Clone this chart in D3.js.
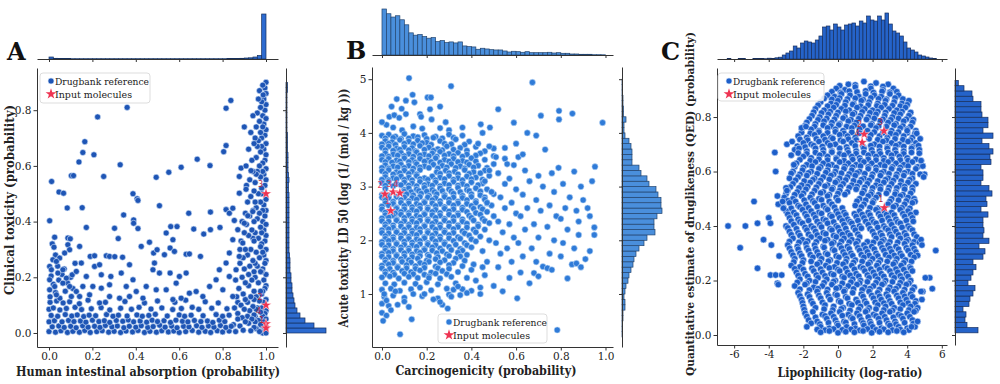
<!DOCTYPE html>
<html>
<head>
<meta charset="utf-8">
<script src="https://cdn.jsdelivr.net/npm/d3@7"></script>
<style>
  body { margin: 0; background: #fff; }
  svg { display: block; }
</style>
</head>
<body>
<div id="chart"></div>
<script>
// ---------- data ----------

// Panel A: human intestinal absorption (x) vs clinical toxicity (y)
const pointsA = [
  [1,.9],[.995,.88],[1,.86],[.99,.84],[1,.82],[.995,.8],[.985,.78],[1,.77],[.99,.75],[1,.73],[.995,.71],[.98,.7],[1,.68],[.99,.66],[1,.64],[.995,.62],[.985,.61],[1,.59],[.99,.57],[1,.55],[.995,.53],[.98,.52],[1,.48],[.99,.46],[1,.44],[.995,.42],[.985,.4],[1,.39],[.99,.37],[1,.35],[.995,.33],[.98,.32],[1,.3],[.99,.28],[1,.26],[.995,.25],[.985,.23],[1,.21],[.99,.19],[1,.17],[.995,.16],[.98,.14],[1,.12],[.99,.11],[1,.08],[.995,.07],[.985,.06],[1,.05],[.99,.04],[1,.02],[.995,.01],[.985,0],[1,0],
  [.985,.89],[.98,.83],[.985,.74],[.98,.67],[.985,.58],[.98,.5],[.985,.44],[.98,.36],[.985,.29],[.98,.22],[.985,.15],[.98,.09],[.985,.025],
  [.97,.87],[.965,.84],[.975,.81],[.96,.79],[.97,.76],[.955,.74],[.975,.72],[.965,.69],[.96,.67],[.975,.65],[.955,.63],[.97,.6],[.96,.58],[.975,.56],[.95,.54],[.965,.5],[.975,.47],[.955,.45],[.97,.43],[.96,.41],[.975,.38],[.95,.36],[.965,.34],[.975,.31],[.955,.29],[.97,.27],[.96,.24],[.975,.22],[.95,.2],[.965,.18],[.975,.15],[.955,.13],[.97,.115],[.96,.09],[.975,.075],[.95,.06],[.965,.045],[.975,.03],[.955,.015],[.97,.005],
  [.95,.7],[.955,.57],[.95,.47],[.94,.34],[.95,.25],[.945,.12],[.955,.085],[.95,.04],[.91,.53],[.91,.39],[.92,.21],[.915,.06],[.87,.11],[.88,.3],
  [.94,.78],[.93,.72],[.945,.68],[.92,.66],[.935,.62],[.94,.58],[.925,.55],[.945,.51],[.93,.49],[.915,.47],[.94,.44],[.925,.42],[.945,.4],[.935,.37],[.92,.35],[.945,.33],[.93,.3],[.915,.28],[.94,.26],[.925,.24],[.945,.22],[.935,.19],[.92,.17],[.945,.15],[.93,.13],[.915,.11],[.94,.095],[.925,.08],[.945,.065],[.935,.05],[.92,.035],[.945,.02],[.93,.008],
  [.905,.43],[.89,.4],[.9,.36],[.885,.33],[.905,.3],[.895,.27],[.88,.25],[.9,.23],[.89,.2],[.905,.18],[.875,.16],[.895,.14],[.905,.12],[.885,.1],[.9,.085],[.87,.07],[.89,.055],[.905,.04],[.88,.025],[.895,.01],[.86,.19],[.865,.13],[.855,.09],[.87,.05],[.85,.03],[.86,.005],
  [0,.005],[.03,.003],[.055,.008],[.085,.002],[.11,.006],[.14,.003],[.165,.009],[.19,.002],[.22,.005],[.245,.008],[.275,.003],[.3,.006],[.33,.002],[.355,.007],[.385,.004],[.41,.009],[.44,.002],[.465,.006],[.495,.003],[.52,.008],[.55,.004],[.575,.007],[.6,.002],[.63,.005],[.66,.009],[.69,.003],[.72,.006],[.745,.002],[.775,.008],[.8,.004],[.83,.007],
  [.015,.022],[.045,.025],[.07,.02],[.1,.024],[.125,.019],[.155,.026],[.18,.021],[.21,.024],[.235,.02],[.26,.027],[.29,.022],[.315,.025],[.345,.019],[.37,.024],[.4,.021],[.425,.026],[.455,.02],[.48,.023],[.51,.028],[.535,.021],[.565,.025],[.59,.019],[.62,.024],[.645,.022],[.68,.026],[.705,.02],[.735,.025],[.76,.021],[.79,.027],[.815,.02],[.84,.024],
  [0,.04],[.025,.044],[.06,.04],[.09,.045],[.115,.041],[.145,.043],[.17,.039],[.2,.046],[.23,.041],[.255,.044],[.28,.038],[.31,.045],[.34,.042],[.365,.047],[.39,.04],[.42,.043],[.45,.039],[.475,.046],[.5,.041],[.53,.044],[.56,.038],[.585,.046],[.615,.042],[.64,.04],[.67,.045],[.7,.041],[.73,.043],[.755,.038],[.785,.046],[.81,.041],
  [.01,.063],[.04,.06],[.075,.066],[.105,.061],[.13,.065],[.16,.059],[.185,.064],[.215,.062],[.265,.066],[.295,.06],[.32,.064],[.36,.061],[.405,.065],[.43,.06],[.46,.063],[.49,.067],[.545,.061],[.6,.065],[.625,.06],[.655,.064],[.71,.062],[.77,.066],[.8,.06],[.83,.064],
  [0,.085],[.02,.09],[.05,.083],[.08,.088],[.12,.092],[.15,.084],[.195,.087],[.24,.091],[.28,.083],[.33,.089],[.38,.085],[.415,.092],[.47,.086],[.52,.09],[.57,.084],[.61,.088],[.66,.092],[.69,.085],[.75,.089],[.82,.087],
  [.005,.11],[.035,.115],[.065,.108],[.095,.112],[.14,.105],[.18,.118],[.26,.11],[.35,.113],[.44,.108],[.5,.115],[.58,.11],[.63,.118],[.72,.112],[.78,.108],
  [.005,.13],[.03,.145],[.05,.125],[.075,.15],[.02,.175],[.045,.19],[.01,.205],[.06,.21],[.085,.18],[.11,.16],[.04,.24],[.07,.23],[.1,.2],[.12,.25],[.03,.28],[.015,.32],
  [.026,.344],[.023,.308],[.087,.341],[.098,.338],[.087,.317],[.095,.299],[.141,.311],[.072,.287],[.049,.269],[.018,.263],[.034,.257],[.003,.239],[.011,.227],[.041,.215],[.064,.227],[.08,.197],[.107,.209],[.126,.221],[.149,.251],[.19,.275],[.21,.277],[.172,.203],[.21,.239],[.233,.245],[.241,.209],[.202,.167],[.156,.167],[.126,.149],[.095,.167],[.064,.179],[.026,.167],[.003,.191],[.003,.155],[.034,.137],[.103,.131],[.141,.131],[.187,.137],[.241,.161],[.279,.173],[.285,.203],[.333,.215],[.371,.245],[.387,.191],[.356,.167],[.402,.149],[.433,.125],[.371,.131],[.325,.125],[.279,.131],[.233,.108],[.479,.227],[.509,.215],[.486,.251],[.448,.167],[.494,.155],[.54,.155],[.558,.215],[.601,.203],[.586,.179],[.632,.215],[.609,.125],[.571,.12],[.647,.143],[.678,.149],[.709,.131],[.74,.167],[.77,.191],[.785,.227],[.816,.251],[.831,.287],[.801,.155],[.847,.131],[.831,.203],[.862,.227],[.877,.275],[.893,.323],[.847,.335],[.87,.371],[.9,.394],
  [.165,.687],[.156,.648],[.207,.64],[.138,.614],[.328,.604],[.012,.544],[.103,.565],[.113,.565],[.252,.562],[.046,.506],[.067,.502],[.153,.45],[.084,.449],[.172,.379],[.003,.403],[.302,.376],[.387,.5],[.406,.482],[.41,.476],[.344,.424],[.39,.406],[.39,.394],[.41,.375],[.319,.339],[.339,.272],[.264,.277],[.279,.275],[.303,.274],[.494,.559],[.552,.577],[.609,.595],[.509,.457],[.425,.311],[.463,.326],[.571,.335],[.561,.382],[.59,.382],[.54,.359],[.644,.43],[.667,.373],[.713,.355],[.742,.601],[.683,.624],[.805,.651],[.816,.673],[.744,.434],[.744,.371],[.788,.379],[.698,.275],[.482,.287],[.498,.299],[.532,.281],[.558,.305],[.578,.293],[.632,.283],[.647,.284],[.816,.443],[.831,.43],[.847,.448],[.854,.404],[.916,.421],[.939,.436],[.885,.592],[.908,.6],[.931,.583],[.877,.562],[.908,.516],[.877,.502],
  [.224,.776],[.36,.81],[.816,.807],[.838,.835],[.9,.74],[.987,.855]
];
const starsA = [[1,.5],[1,.1],[1,.033],[1,.018]];
const starLabelsA = [["3",.975,.535],["2",.972,.13],["4",.966,.078],["1",.98,.047]];
const histTopA = [2,.7,.5,.4,.4,.3,.3,.3,.3,.3,.3,.3,.3,.3,.3,.3,.3,.3,.3,.3,.3,.3,.3,.3,.3,.3,.3,.3,.3,.3,.3,.3,.3,.3,.3,.3,.3,.3,.3,.3,.3,.4,.5,.5,.7,1,1.2,2,3.5,45];
const histRightA = [40,28,19,14,11,9,8,7,6,6,5,5,4,4,4,3.5,3,3,3,3,3,3,3,3,3,3,3,3,2.5,2.5,3,2.5,2,2,2,2,1.5,1.5,1.5,1.5,1,1,1,1,1,1,1,1,1.5,1.5];
const xTicksA = [0, .2, .4, .6, .8, 1];
const yTicksA = [0, .2, .4, .6, .8];

// Panel B: carcinogenicity (x) vs acute toxicity LD50 (y)
const pointsB = [
  [.121,5.02],[.309,4.87],[.673,4.94],[.137,4.71],[.066,4.63],[.107,4.6],[.145,4.57],[.204,4.66],[.219,4.66],[.043,4.49],[.088,4.45],[.215,4.44],[.26,4.49],[.17,4.35],[.175,4.3],[.222,4.25],[.285,4.2],[.033,4.3],[.055,4.33],[.077,4.28],[.107,4.35],[.26,4.09],[.02,4.15],[.05,4.1],[.09,4.05],[.14,4.12],[.18,4.08],[.3,4.05],[.36,4.1],[0,4.2],
  [.52,4.44],[.711,4.32],[.792,4.41],[.792,4.25],[.852,4.36],[.987,4.19],[.442,4.16],[.483,4.1],[.59,4.19],
  [0,3.95],[.03,3.97],[.06,3.93],[.1,3.98],[.14,3.94],[.19,3.96],[.24,3.93],[.3,3.97],[.36,3.95],[.45,4],
  [.015,3.9],[.05,3.91],[.085,3.89],[.12,3.9],[.16,3.92],[.2,3.89],[.23,3.91],[.27,3.9],[.32,3.91],
  [.015,3.85],[.045,3.83],[.08,3.87],[.12,3.84],[.16,3.86],[.2,3.82],[.26,3.85],[.33,3.88],[.39,3.84],
  [0,3.79],[.03,3.8],[.06,3.78],[.1,3.8],[.14,3.79],[.18,3.81],[.22,3.78],[.28,3.8],[.31,3.79],[.37,3.78],
  [0,3.73],[.03,3.75],[.065,3.71],[.1,3.74],[.135,3.72],[.17,3.76],[.21,3.73],[.25,3.7],[.29,3.75],[.35,3.72],[.42,3.74],[.5,3.71],[.73,3.69],
  [.015,3.68],[.05,3.67],[.08,3.69],[.12,3.68],[.15,3.66],[.19,3.69],[.23,3.67],[.27,3.68],[.32,3.69],[.38,3.67],[.46,3.66],
  [.015,3.62],[.05,3.6],[.085,3.63],[.12,3.61],[.155,3.64],[.19,3.6],[.225,3.62],[.26,3.65],[.3,3.61],[.34,3.63],[.38,3.6],[.44,3.62],
  [0,3.57],[.03,3.56],[.07,3.58],[.1,3.57],[.14,3.56],[.17,3.58],[.21,3.57],[.245,3.56],[.28,3.58],[.32,3.57],[.36,3.56],[.42,3.58],[.5,3.57],
  [0,3.5],[.03,3.52],[.065,3.49],[.1,3.53],[.135,3.5],[.17,3.52],[.205,3.49],[.24,3.53],[.28,3.5],[.32,3.52],[.36,3.48],[.4,3.53],[.46,3.5],[.55,3.52],
  [.015,3.46],[.045,3.45],[.08,3.47],[.12,3.46],[.15,3.45],[.19,3.47],[.22,3.46],[.26,3.45],[.3,3.47],[.34,3.46],[.38,3.45],[.42,3.47],
  [.015,3.4],[.05,3.38],[.085,3.41],[.12,3.39],[.155,3.42],[.19,3.38],[.23,3.41],[.27,3.39],[.31,3.42],[.35,3.38],[.39,3.41],[.43,3.39],[.5,3.42],
  [0,3.35],[.03,3.34],[.07,3.36],[.1,3.35],[.14,3.34],[.17,3.36],[.21,3.35],[.25,3.34],[.29,3.36],[.33,3.35],[.37,3.34],[.41,3.36],[.47,3.35],
  [0,3.29],[.03,3.31],[.065,3.27],[.1,3.3],[.135,3.28],[.17,3.31],[.245,3.27],[.285,3.3],[.325,3.28],[.37,3.31],[.41,3.27],[.46,3.3],
  [.015,3.24],[.05,3.23],[.08,3.25],[.12,3.24],[.155,3.23],[.26,3.24],[.3,3.25],[.34,3.23],[.39,3.24],[.44,3.25],
  [.015,3.18],[.05,3.16],[.085,3.19],[.12,3.17],[.155,3.2],[.19,3.16],[.225,3.19],[.26,3.17],[.3,3.2],[.34,3.16],[.38,3.19],[.42,3.17],[.48,3.2],
  [0,3.13],[.03,3.12],[.065,3.14],[.1,3.13],[.135,3.12],[.17,3.14],[.205,3.13],[.24,3.12],[.28,3.14],[.32,3.13],[.36,3.12],[.4,3.14],[.45,3.13],
  [0,3.07],[.03,3.09],[.065,3.05],[.1,3.08],[.135,3.06],[.17,3.09],[.205,3.05],[.24,3.08],[.28,3.06],[.32,3.09],[.36,3.05],[.4,3.08],[.45,3.06],
  [.015,3.02],[.05,3.01],[.085,3.03],[.12,3.02],[.155,3.01],[.19,3.03],[.225,3.02],[.26,3.01],[.3,3.03],[.34,3.02],[.38,3.01],[.43,3.03],
  [.015,2.96],[.1,2.94],[.12,2.97],[.155,2.95],[.19,2.98],[.225,2.94],[.26,2.97],[.3,2.95],[.34,2.98],[.38,2.94],[.42,2.97],[.47,2.95],
  [.1,2.91],[.13,2.9],[.165,2.92],[.2,2.91],[.235,2.9],[.27,2.92],[.31,2.91],[.35,2.9],[.39,2.92],[.44,2.91],
  [0,2.85],[.03,2.83],[.11,2.86],[.14,2.84],[.175,2.87],[.21,2.83],[.245,2.86],[.28,2.84],[.32,2.87],[.36,2.83],[.4,2.86],[.44,2.84],[.5,2.86],
  [0,2.8],[.03,2.79],[.065,2.81],[.1,2.8],[.135,2.79],[.17,2.81],[.205,2.8],[.24,2.79],[.28,2.81],[.32,2.8],[.36,2.79],[.4,2.81],[.46,2.8],
  [.015,2.74],[.05,2.72],[.085,2.75],[.12,2.73],[.155,2.76],[.19,2.72],[.225,2.75],[.26,2.73],[.3,2.76],[.34,2.72],[.38,2.75],[.42,2.73],[.46,2.76],
  [.015,2.69],[.05,2.68],[.085,2.7],[.12,2.69],[.155,2.68],[.19,2.7],[.225,2.69],[.26,2.68],[.3,2.7],[.34,2.69],[.38,2.68],[.42,2.7],[.47,2.69],
  [0,2.63],[.03,2.65],[.065,2.61],[.1,2.64],[.135,2.62],[.17,2.65],[.205,2.61],[.24,2.64],[.28,2.62],[.32,2.65],[.36,2.61],[.4,2.64],[.44,2.62],[.49,2.65],
  [0,2.58],[.065,2.59],[.1,2.58],[.135,2.57],[.17,2.59],[.205,2.58],[.24,2.57],[.28,2.59],[.32,2.58],[.36,2.57],[.41,2.59],[.45,2.58],
  [.015,2.52],[.06,2.5],[.085,2.53],[.12,2.51],[.155,2.54],[.19,2.5],[.225,2.53],[.26,2.51],[.3,2.54],[.34,2.5],[.38,2.53],[.42,2.51],[.47,2.53],
  [.015,2.47],[.05,2.46],[.085,2.48],[.12,2.47],[.155,2.46],[.19,2.48],[.225,2.47],[.26,2.46],[.3,2.48],[.34,2.47],[.39,2.46],[.44,2.48],
  [0,2.41],[.03,2.43],[.065,2.39],[.1,2.42],[.135,2.4],[.17,2.43],[.205,2.39],[.24,2.42],[.28,2.4],[.32,2.43],[.36,2.39],[.4,2.42],[.45,2.4],
  [0,2.36],[.03,2.35],[.065,2.37],[.1,2.36],[.135,2.35],[.17,2.37],[.205,2.36],[.24,2.35],[.28,2.37],[.32,2.36],[.36,2.35],[.41,2.37],[.46,2.36],
  [.015,2.3],[.05,2.28],[.085,2.31],[.12,2.29],[.155,2.32],[.19,2.28],[.225,2.31],[.26,2.29],[.3,2.32],[.34,2.28],[.38,2.31],[.43,2.29],[.48,2.32],
  [.015,2.25],[.05,2.24],[.085,2.26],[.12,2.25],[.155,2.24],[.19,2.26],[.225,2.25],[.26,2.24],[.3,2.26],[.34,2.25],[.38,2.24],[.43,2.26],
  [0,2.19],[.03,2.21],[.065,2.17],[.1,2.2],[.135,2.18],[.17,2.21],[.205,2.17],[.24,2.2],[.28,2.18],[.32,2.21],[.36,2.17],[.41,2.2],
  [0,2.14],[.03,2.13],[.065,2.15],[.1,2.14],[.135,2.13],[.17,2.15],[.205,2.14],[.24,2.13],[.28,2.15],[.32,2.14],[.37,2.13],[.42,2.15],
  [.015,2.08],[.05,2.06],[.085,2.09],[.12,2.07],[.155,2.1],[.19,2.06],[.225,2.09],[.26,2.07],[.3,2.1],[.34,2.06],[.39,2.09],[.44,2.07],
  [.015,2.03],[.05,2.02],[.085,2.04],[.12,2.03],[.155,2.02],[.19,2.04],[.225,2.03],[.26,2.02],[.3,2.04],[.35,2.03],[.4,2.02],
  [0,1.97],[.03,1.99],[.065,1.95],[.1,1.98],[.135,1.96],[.17,1.99],[.205,1.95],[.24,1.98],[.28,1.96],[.32,1.99],[.37,1.95],[.42,1.98],
  [0,1.92],[.03,1.91],[.065,1.93],[.1,1.92],[.135,1.91],[.17,1.93],[.205,1.92],[.24,1.91],[.28,1.93],[.33,1.92],[.38,1.91],
  [.015,1.86],[.05,1.84],[.085,1.87],[.12,1.85],[.155,1.88],[.19,1.84],[.225,1.87],[.26,1.85],[.3,1.88],[.35,1.84],[.4,1.87],
  [.015,1.81],[.05,1.8],[.085,1.82],[.12,1.81],[.155,1.8],[.19,1.82],[.225,1.81],[.27,1.8],[.31,1.82],[.36,1.81],
  [0,1.75],[.03,1.77],[.065,1.73],[.1,1.76],[.135,1.74],[.17,1.77],[.205,1.73],[.245,1.76],[.29,1.74],[.34,1.77],[.38,1.73],
  [0,1.7],[.03,1.69],[.065,1.71],[.1,1.7],[.135,1.69],[.17,1.71],[.21,1.7],[.25,1.69],[.3,1.71],[.35,1.7],
  [.015,1.64],[.05,1.62],[.085,1.65],[.12,1.63],[.16,1.66],[.2,1.62],[.24,1.65],[.28,1.63],[.33,1.66],[.37,1.62],
  [.015,1.59],[.05,1.58],[.09,1.6],[.13,1.59],[.17,1.58],[.21,1.6],[.26,1.59],[.32,1.58],
  [0,1.53],[.03,1.55],[.07,1.51],[.11,1.54],[.15,1.52],[.19,1.55],[.24,1.51],[.3,1.54],[.36,1.52],[.41,1.55],
  [0,1.48],[.035,1.47],[.07,1.49],[.11,1.48],[.15,1.47],[.19,1.49],[.25,1.48],[.3,1.47],
  [.015,1.42],[.05,1.4],[.09,1.43],[.13,1.41],[.17,1.44],[.22,1.4],[.27,1.43],[.34,1.41],
  [.015,1.37],[.055,1.36],[.1,1.38],[.14,1.37],[.19,1.36],[.24,1.38],[.29,1.37],
  [0,1.31],[.035,1.33],[.075,1.29],[.12,1.32],[.16,1.3],[.21,1.33],[.26,1.29],[.31,1.32],[.38,1.3],
  [.015,1.2],[.055,1.18],[.1,1.21],[.15,1.19],[.2,1.22],[.25,1.18],[.33,1.2],
  [0,1.08],[.04,1.1],[.08,1.06],[.13,1.09],[.22,1.07],[.29,1.1],[.32,1.08],[.36,1.09],[.4,1.06],
  [.01,.95],[.05,.97],[.1,.93],[.18,.96],[.25,.92],[.3,.99],[.35,.98],
  [0,.82],[.03,.78],[.07,.8],[.12,.76],[.27,.8],[.294,.73],
  [0,.65],[.02,.6],[.005,.5],[.04,.7],[.133,.53],[.081,.25],[.784,.33],
  [.01,1],[.02,.88],[.06,1.05],[.1,.86],[.14,1],[.17,1.12],[.19,1],[.23,.9],[.26,.85],[.31,.95],[.34,1.14],[.38,1.02],[.44,1.12],[.21,1.3],
  [.46,1.35],[.47,1.6],[.45,1.8],[.48,2],[.46,2.2],[.5,2.45],[.47,2.7],[.49,2.9],[.46,3.1],[.48,3.3],[.51,3.55],[.5,1.15],
  [.52,1.5],[.53,1.75],[.51,1.95],[.54,2.15],[.52,2.35],[.55,2.6],[.53,2.8],[.55,3.05],[.52,3.25],[.56,3.42],[.54,1.05],
  [.57,1.3],[.58,1.6],[.56,1.85],[.59,2.05],[.57,2.3],[.6,2.5],[.58,2.7],[.6,2.95],[.57,3.15],[.59,3.4],[.61,3.55],[.605,.92],
  [.62,1.4],[.63,1.7],[.61,1.95],[.64,2.2],[.62,2.45],[.65,2.6],[.63,2.85],[.66,3.1],[.64,3.3],[.66,1.2],
  [.68,1.39],[.69,1.6],[.67,1.85],[.7,2.05],[.68,2.3],[.71,2.55],[.69,2.75],[.72,3],[.7,3.2],[.7,1.33],
  [.72,1.51],[.74,1.48],[.76,1.45],[.75,1.75],[.77,2],[.74,2.25],[.78,2.45],[.75,2.65],[.77,2.9],[.76,3.25],[.79,3.35],
  [.8,1.7],[.81,1.95],[.83,2.2],[.8,2.4],[.82,2.6],[.84,2.8],[.81,3.05],[.83,1.29],[.85,1.55],
  [.87,1.57],[.89,1.5],[.86,1.85],[.88,2.1],[.87,2.55],[.9,2.75],[.86,3.28],[.89,3],[.88,2.35],
  [.92,2.6],[.93,1.8],[.95,2.24],[.94,3.1],[.953,3.37],[.91,1.65],[.93,2.45],[.95,2.1],
  [.44,1],[.42,1.25],[.45,1.5],[.4,1.45],[.43,3.8],[.48,3.75],[.55,3.72],[.6,3.8],[.63,3.6],[.69,3.95],[.65,4]
];
const starsB = [[.013,2.86],[.05,2.9],[.08,2.88],[.039,2.55]];
const starLabelsB = [["2",-.009,3.03],["3",.032,3.05],["4",.062,3.05],["1",.024,2.72]];
const histTopB = [45.7,41,37.7,39,35,30,22,19.7,20.3,18.3,16.7,17.3,13.3,14.3,12.3,13,12,13,9,8.3,8,5.7,6.7,6,5.3,5,5,4,3,3.7,3.3,2.7,3.3,2.3,2.3,2.3,2.3,2.7,2,2.3,1.7,1.7,1,1,.7,.7,.7,.3,.3,.2];
const histRightB = [.5,.5,.5,1,1,3,3,2,3,4,6,7,9,11,12,14,17,22,25,33,32,32,35,40,39,39,36,34,27,25,19,17,10,10,10,9,7,3,2,2,4,1.5,1.5,1,1,.5,.3,.5];
const xTicksB = [0, .2, .4, .6, .8, 1];
const yTicksB = [1, 2, 3, 4, 5];

// Panel C: lipophilicity (x) vs QED (y)
const pointsC = [
  [.6,.92],[1.5,.93],[2.2,.925],[2.9,.92],
  [.1,.915],[1,.918],[1.9,.913],[2.6,.912],
  [-.1,.905],[.4,.9],[1,.91],[1.9,.905],[2.6,.9],[3.2,.905],
  [-.35,.893],[.15,.89],[.65,.895],[1.1,.892],[1.6,.896],[2.05,.89],[2.55,.894],[3,.891],[3.4,.893],
  [-.6,.88],[-.2,.875],[.2,.885],[.7,.88],[1.2,.875],[1.6,.885],[2.1,.88],[2.5,.875],[3,.885],[3.5,.88],
  [-.8,.868],[-.35,.865],[.1,.87],[.55,.866],[1,.869],[1.45,.864],[1.9,.87],[2.35,.867],[2.8,.865],[3.3,.87],[3.75,.866],
  [-1,.855],[-.4,.85],[0,.86],[.45,.855],[.9,.85],[1.35,.86],[1.8,.855],[2.3,.85],[2.75,.86],[3.25,.855],[3.7,.85],[4.1,.86],
  [-1.15,.843],[-.6,.84],[-.1,.845],[.4,.842],[.85,.846],[1.3,.84],[1.75,.844],[2.25,.841],[2.7,.845],[3.15,.842],[3.6,.84],[4,.845],
  [-1.3,.83],[-.8,.825],[-.25,.835],[.2,.83],[.65,.825],[1.1,.835],[1.55,.83],[2,.825],[2.5,.835],[2.95,.83],[3.4,.825],[3.9,.835],
  [-1.4,.818],[-.95,.815],[-.45,.82],[0,.817],[.45,.821],[.95,.815],[1.4,.819],[1.85,.816],[2.3,.82],[2.75,.817],[3.25,.815],[3.7,.82],[4.2,.817],
  [-1.5,.805],[-1.05,.8],[-.55,.81],[-.1,.805],[.4,.8],[.85,.81],[1.3,.805],[1.75,.8],[2.2,.81],[2.7,.805],[3.15,.8],[3.6,.81],[4.1,.805],
  [-1.65,.793],[-1.15,.79],[-.65,.795],[-.2,.792],[.3,.796],[.75,.79],[1.2,.794],[1.65,.791],[2.1,.795],[2.6,.792],[3.05,.79],[3.5,.795],[3.95,.792],[4.35,.79],
  [-1.8,.78],[-1.3,.775],[-.8,.785],[-.35,.78],[.1,.775],[.6,.785],[1.05,.78],[1.95,.775],[2.45,.785],[2.9,.78],[3.35,.775],[3.8,.785],[4.3,.78],
  [-1.9,.768],[-1.35,.765],[-.85,.77],[-.4,.767],[.05,.771],[.5,.765],[.95,.769],[1.45,.766],[1.9,.77],[2.35,.767],[2.8,.765],[3.25,.77],[3.75,.767],[4.2,.765],
  [-2.1,.76],[-1.55,.755],[-1.1,.75],[-.6,.76],[-.15,.755],[.3,.75],[.8,.76],[1.25,.755],[1.7,.75],[2.2,.76],[3.1,.75],[3.6,.76],[4,.755],[4.5,.75],
  [-2.1,.743],[-1.6,.74],[-1.1,.745],[-.6,.742],[-.15,.746],[.35,.74],[.8,.744],[1.25,.741],[2.1,.745],[2.6,.742],[3.05,.74],[3.5,.745],[4,.742],[4.45,.74],
  [-2.3,.73],[-1.8,.725],[-1.35,.735],[-.85,.73],[-.4,.725],[.1,.735],[.55,.73],[1,.725],[1.9,.735],[2.4,.73],[2.85,.725],[3.35,.735],[3.8,.73],[4.3,.725],
  [-2.2,.718],[-1.75,.715],[-1.25,.72],[-.75,.717],[-.3,.721],[.15,.715],[.6,.719],[1.05,.716],[1.8,.72],[2.3,.717],[2.8,.715],[3.3,.72],[3.75,.717],[4.2,.715],
  [-2,.705],[-1.55,.7],[-1.1,.71],[-.6,.705],[-.15,.7],[.3,.71],[.8,.705],[2.1,.7],[2.6,.71],[3.1,.705],[3.55,.7],[4.05,.71],[4.5,.705],
  [-2.35,.693],[-1.9,.69],[-1.4,.695],[-.9,.692],[-.45,.696],[.5,.69],[1,.694],[1.45,.691],[1.9,.695],[2.4,.692],[2.85,.69],[3.35,.695],[3.8,.692],[4.3,.69],[4.65,.695],
  [-2.5,.68],[-2.25,.685],[-1.8,.675],[-1.3,.685],[-.85,.68],[-.35,.675],[.1,.685],[.55,.68],[1.05,.675],[1.5,.685],[1.95,.68],[2.4,.675],[2.85,.685],[3.3,.68],[3.8,.675],[4.25,.685],[4.7,.68],
  [-2.3,.668],[-1.8,.665],[-1.3,.67],[-.85,.667],[-.35,.671],[.1,.665],[.6,.669],[1.05,.666],[1.5,.67],[2,.667],[2.45,.665],[2.9,.67],[3.35,.667],[3.8,.665],[4.25,.67],[4.7,.667],
  [-2,.655],[-1.55,.65],[-1.05,.66],[-.6,.655],[-.1,.65],[.35,.66],[.8,.655],[1.25,.65],[1.75,.66],[2.2,.655],[2.65,.65],[3.1,.66],[3.55,.655],[4,.65],[4.8,.64],
  [-2.2,.643],[-1.6,.64],[-1.1,.645],[-.6,.642],[-.1,.646],[.35,.64],[.85,.644],[1.3,.641],[1.75,.645],[2.2,.642],[2.65,.64],[3.1,.645],[3.6,.642],[4.05,.64],[4.5,.645],
  [-2.4,.63],[-1.8,.625],[-1.3,.635],[-.85,.63],[-.35,.625],[.1,.635],[.6,.63],[1.05,.625],[1.5,.635],[1.95,.63],[2.45,.625],[2.9,.635],[3.35,.63],[3.8,.625],[4.3,.635],[4.9,.62],
  [-2.5,.618],[-2,.615],[-1.5,.62],[-1,.617],[-.55,.621],[-.1,.615],[.4,.619],[.85,.616],[1.3,.62],[1.75,.617],[2.2,.615],[2.7,.62],[3.15,.617],[3.6,.615],[4.05,.62],[4.6,.617],
  [-2.6,.6],[-2.05,.605],[-1.55,.6],[-1.1,.61],[-.6,.605],[-.15,.6],[.35,.61],[.8,.605],[1.25,.6],[1.75,.61],[2.2,.605],[2.65,.6],[3.1,.61],[3.55,.605],[4.05,.6],[4.5,.61],[5,.59],
  [-2.7,.593],[-2.2,.59],[-1.7,.595],[-1.2,.592],[-.7,.596],[-.25,.59],[.2,.594],[.65,.591],[1.1,.595],[1.55,.592],[2,.59],[2.5,.595],[2.95,.592],[3.4,.59],[3.85,.595],[4.3,.592],[4.75,.59],
  [-2.8,.575],[-2.3,.58],[-1.8,.585],[-1.35,.575],[-.85,.58],[-.4,.585],[.1,.575],[.55,.58],[1,.585],[1.5,.575],[1.95,.58],[2.45,.585],[2.9,.575],[3.35,.58],[3.8,.585],[4.3,.575],
  [-2.45,.568],[-1.95,.565],[-1.45,.57],[-1,.567],[-.5,.571],[-.05,.565],[.45,.569],[.9,.566],[1.35,.57],[1.8,.567],[2.3,.565],[2.75,.57],[3.2,.567],[3.65,.565],[4.15,.57],
  [-2.6,.555],[-2.1,.55],[-1.6,.56],[-1.1,.555],[-.6,.55],[-.15,.56],[.3,.555],[.8,.55],[1.25,.56],[1.7,.555],[2.2,.55],[2.65,.56],[3.1,.555],[3.6,.55],[4.05,.56],[4.5,.555],
  [-2.75,.543],[-2.25,.54],[-1.75,.545],[-1.25,.542],[-.75,.546],[-.3,.54],[.15,.544],[.65,.541],[1.1,.545],[1.55,.542],[2,.54],[2.45,.545],[2.95,.542],[3.4,.54],[3.85,.545],[4.3,.542],
  [-2.9,.53],[-2.35,.525],[-1.85,.535],[-1.35,.53],[-.85,.525],[-.35,.535],[.1,.53],[.55,.525],[1.05,.535],[1.5,.53],[1.95,.525],[2.45,.535],[2.9,.53],[3.35,.525],[3.85,.535],[4.3,.53],
  [-3,.518],[-2.5,.515],[-2,.52],[-1.5,.517],[-1,.521],[-.5,.515],[0,.519],[.4,.516],[1.4,.52],[1.9,.517],[2.35,.515],[2.8,.52],[3.3,.517],[3.75,.515],[4.2,.52],
  [-3.1,.505],[-2.6,.5],[-2.1,.51],[-1.6,.505],[-1.1,.5],[-.6,.51],[-.1,.505],[1.25,.5],[1.75,.51],[2.2,.505],[3.1,.5],[3.6,.51],[4.05,.505],[4.4,.5],
  [-2.9,.493],[-2.45,.49],[-1.95,.495],[-1.45,.492],[-.95,.496],[-.5,.49],[0,.494],[1.1,.491],[1.6,.495],[2.05,.492],[3,.49],[3.5,.495],[3.95,.492],[4.45,.49],
  [-3.3,.48],[-2.8,.485],[-2.3,.475],[-1.85,.48],[-1.35,.485],[-.85,.475],[-.35,.48],[1,.475],[1.5,.48],[2,.485],[2.9,.48],[3.35,.475],[3.85,.48],[4.3,.485],
  [-3.15,.468],[-2.7,.465],[-2.2,.47],[-1.7,.467],[-1.2,.471],[-.7,.465],[-.2,.469],[.25,.466],[1.35,.47],[1.85,.467],[2.3,.465],[3.2,.47],[3.7,.467],[4.15,.465],
  [-3,.455],[-2.55,.45],[-2.05,.46],[-1.55,.455],[-1.1,.45],[-.6,.46],[-.1,.455],[.35,.45],[1.25,.455],[1.75,.45],[2.2,.46],[2.65,.455],[3.1,.45],[3.6,.46],[4.05,.455],[4.5,.45],
  [-2.9,.443],[-2.4,.44],[-1.9,.445],[-1.4,.442],[-.95,.446],[-.45,.44],[0,.444],[.45,.441],[.95,.445],[1.4,.442],[1.85,.44],[2.35,.445],[2.8,.442],[3.25,.44],[3.75,.445],[4.2,.442],
  [-2.8,.43],[-2.3,.425],[-1.8,.435],[-1.3,.43],[-.85,.425],[-.35,.435],[.1,.43],[.55,.425],[1.05,.435],[1.5,.43],[1.95,.425],[2.45,.435],[2.9,.43],[3.35,.425],[3.85,.435],[4.3,.43],
  [-2.7,.418],[-2.2,.415],[-1.7,.42],[-1.2,.417],[-.7,.421],[-.25,.415],[.25,.419],[.7,.416],[1.15,.42],[1.6,.417],[2.05,.415],[2.55,.42],[3,.417],[3.45,.415],[3.95,.42],[4.35,.417],
  [-3,.4],[-2.55,.405],[-2.05,.41],[-1.55,.4],[-1.05,.405],[-.6,.41],[-.1,.4],[.35,.405],[.8,.41],[1.25,.4],[1.75,.405],[2.2,.41],[2.65,.4],[3.1,.405],[3.6,.41],[4.05,.4],
  [-2.9,.393],[-2.4,.39],[-1.9,.395],[-1.4,.392],[-.95,.396],[-.45,.39],[0,.394],[.45,.391],[.9,.395],[1.35,.392],[1.85,.39],[2.3,.395],[2.75,.392],[3.25,.39],[3.7,.395],[4.15,.392],
  [-2.8,.38],[-2.3,.375],[-1.8,.385],[-1.3,.38],[-.85,.375],[-.35,.385],[.1,.38],[.55,.375],[1,.385],[2,.38],[2.45,.375],[2.9,.385],[3.35,.38],[3.85,.375],[4.3,.385],
  [-2.7,.368],[-2.2,.365],[-1.7,.37],[-1.2,.367],[-.7,.371],[-.25,.365],[.25,.369],[.7,.366],[1.15,.37],[2.1,.367],[2.55,.365],[3,.37],[3.5,.367],[3.95,.365],[4.4,.37],
  [-2.6,.355],[-2.05,.35],[-1.55,.36],[-1.05,.355],[-.6,.35],[-.1,.36],[.35,.355],[.8,.35],[1.25,.36],[2.2,.355],[2.65,.35],[3.1,.36],[3.6,.355],[4.05,.35],[4.55,.36],
  [-2.8,.343],[-2.25,.34],[-1.75,.345],[-1.25,.342],[-.75,.346],[-.25,.34],[.2,.344],[.65,.341],[1.15,.345],[1.7,.342],[2.05,.34],[2.55,.345],[3,.342],[3.45,.34],[3.95,.345],[4.4,.342],
  [-2.9,.33],[-2.35,.325],[-1.85,.335],[-1.35,.33],[-.85,.325],[-.35,.335],[.1,.33],[.55,.325],[1.05,.335],[1.5,.33],[1.95,.325],[2.45,.335],[2.9,.33],[3.35,.325],[3.85,.335],[4.3,.33],[4.7,.34],
  [-2.8,.318],[-2.3,.315],[-1.8,.32],[-1.3,.317],[-.8,.321],[-.3,.315],[.2,.319],[.65,.316],[1.15,.32],[1.6,.317],[2.1,.315],[2.55,.32],[3,.317],[3.5,.315],[3.95,.32],[4.4,.317],
  [-2.7,.305],[-2.2,.3],[-1.7,.31],[-1.2,.305],[-.7,.3],[-.2,.31],[.3,.305],[.75,.3],[1.25,.31],[1.7,.305],[2.2,.3],[2.65,.31],[3.1,.305],[3.6,.3],[4.05,.31],[4.5,.305],
  [-2.6,.293],[-2.1,.29],[-1.6,.295],[-1.1,.292],[-.6,.296],[-.1,.29],[.4,.294],[.85,.291],[1.35,.295],[1.8,.292],[2.3,.29],[2.75,.295],[3.25,.292],[3.7,.29],[4.2,.295],[4.6,.292],
  [-2.5,.28],[-2,.275],[-1.45,.285],[-.95,.28],[-.45,.275],[.05,.285],[.5,.28],[1,.275],[1.5,.285],[2,.28],[2.45,.275],[2.95,.285],[3.4,.28],[3.9,.275],[4.4,.285],
  [-2.55,.268],[-2.05,.265],[-1.55,.27],[-1.05,.267],[-.55,.271],[-.05,.265],[.45,.269],[.9,.266],[1.4,.27],[1.85,.267],[2.35,.265],[2.85,.27],[3.3,.267],[3.8,.265],[4.25,.27],
  [-2.7,.255],[-2.2,.25],[-1.2,.26],[-.7,.255],[-.2,.25],[.3,.26],[.8,.255],[1.3,.25],[1.75,.26],[2.25,.255],[2.7,.25],[3.2,.26],[3.65,.255],[4.15,.25],
  [-2.5,.243],[-2,.24],[-1.5,.245],[-1,.242],[-.5,.246],[0,.24],[.45,.244],[.95,.241],[1.45,.245],[1.9,.242],[2.4,.24],[2.85,.245],[3.35,.242],[3.8,.24],[4.2,.245],
  [-2.4,.23],[-1.9,.225],[-1.4,.235],[-.9,.23],[-.4,.225],[.1,.235],[.55,.23],[1.05,.225],[1.55,.235],[2.05,.23],[2.5,.225],[3,.235],[3.45,.23],[3.95,.225],[4.3,.235],
  [-2.3,.218],[-1.75,.215],[-1.25,.22],[-.75,.217],[-.25,.221],[.25,.215],[.7,.219],[1.2,.216],[1.7,.22],[2.15,.217],[2.65,.215],[3.1,.22],[3.6,.217],[4.05,.215],
  [-2.2,.205],[-1.65,.2],[-1.15,.21],[-.65,.205],[-.15,.2],[.35,.21],[.85,.205],[1.3,.2],[1.8,.21],[2.3,.205],[2.75,.2],[3.25,.21],[3.7,.205],[4.2,.2],
  [-2.35,.193],[-1.8,.19],[-1.3,.195],[-.8,.192],[-.25,.196],[.25,.19],[.75,.194],[1.25,.191],[1.7,.195],[2.2,.192],[2.65,.19],[3.15,.195],[3.6,.192],[4.1,.19],
  [-2.5,.18],[-1.9,.185],[-1.4,.175],[-.9,.18],[-.35,.185],[.1,.175],[.6,.18],[1.1,.185],[1.55,.175],[2.05,.18],[2.55,.185],[3,.175],[3.5,.18],[3.95,.185],[4.4,.175],
  [-2.2,.168],[-1.65,.165],[-1.15,.17],[-.6,.167],[-.1,.171],[.4,.165],[.9,.169],[1.4,.166],[1.85,.17],[2.4,.167],[2.9,.165],[3.35,.17],[3.85,.167],[4.3,.165],
  [-2.3,.155],[-1.75,.15],[-1.2,.16],[-.65,.155],[-.15,.15],[.35,.16],[.85,.155],[1.35,.15],[1.8,.16],[2.3,.155],[2.8,.15],[3.25,.16],[3.75,.155],[4.2,.15],[4.9,.16],
  [-2.2,.143],[-1.65,.14],[-1.1,.145],[-.55,.142],[-.05,.146],[.45,.14],[1.45,.141],[1.95,.145],[2.4,.142],[2.9,.14],[3.4,.145],[3.85,.142],[4.3,.14],
  [-2.1,.13],[-1.55,.125],[-1,.135],[-.45,.13],[.05,.125],[.55,.135],[1.05,.13],[1.55,.125],[2.05,.135],[2.5,.13],[3,.125],[3.5,.135],[3.95,.13],[4.5,.125],
  [-2.05,.118],[-1.45,.115],[-.9,.12],[.15,.121],[.65,.115],[1.15,.119],[1.65,.116],[2.15,.12],[2.65,.117],[3.1,.115],[3.6,.12],[4.05,.117],[4.45,.115],
  [-2,.105],[-1.3,.1],[-.75,.11],[-.25,.105],[.3,.1],[.8,.11],[1.3,.105],[1.8,.1],[2.3,.11],[2.75,.105],[3.25,.1],[3.75,.11],[4.2,.105],[4.6,.1],
  [-1.95,.093],[-.8,.095],[-.3,.092],[.2,.096],[.7,.09],[1.2,.094],[1.7,.091],[2.2,.095],[2.65,.092],[3.15,.09],[3.6,.095],[4.1,.092],[4.5,.09],
  [-1.9,.08],[-1.45,.085],[-.9,.075],[-.4,.08],[.1,.085],[.6,.075],[1.1,.08],[1.6,.085],[2.05,.075],[2.55,.08],[3,.085],[3.5,.075],[4,.08],[4.4,.085],
  [-1.8,.068],[-1.3,.065],[-.75,.07],[-.25,.067],[.25,.071],[.75,.065],[1.25,.069],[1.75,.066],[2.2,.07],[2.7,.067],[3.2,.065],[3.65,.07],[4.15,.067],
  [-1.7,.055],[-1.2,.05],[-.65,.06],[-.15,.055],[.35,.05],[.85,.06],[1.35,.055],[1.85,.05],[2.35,.06],[2.8,.055],[3.3,.05],[3.75,.06],[4.3,.055],
  [-1.55,.043],[-1.05,.04],[-.55,.045],[-.05,.042],[.45,.046],[.95,.04],[1.45,.044],[1.9,.041],[2.4,.045],[2.9,.042],[3.35,.04],[3.85,.045],[4.35,.042],
  [-1.8,.03],[-1,.03],[-.5,.025],[0,.035],[.5,.03],[1,.025],[1.5,.035],[2,.03],[2.5,.025],[3,.035],[3.5,.03],[4,.025],[4.45,.03],
  [-1.2,.02],[-.75,.018],[-.25,.022],[.25,.019],[.75,.021],[1.25,.017],[1.7,.022],[2.2,.019],[2.65,.021],[3.15,.018],[3.6,.02],[4.1,.018],
  [-1,.01],[-.5,.015],[0,.008],[.45,.012],[.95,.01],[1.45,.015],[1.95,.008],[2.4,.012],[2.9,.01],[3.4,.015],[3.8,.01],
  [-6.35,.4],[-5.35,.4],[-4.85,.49],[-5.65,.32],[-4.65,.41],[-4.65,.245],[-4.3,.35],[-4,.43],[-3.9,.41],[-3.85,.33],[-3.65,.67],[-3.6,.6],[-3.9,.22],[-3.6,.22],[-3.5,.19],[-3.45,.185],[-3.4,.29],[-3.25,.22],[-2.95,.7],[-2.65,.71],[-2.55,.625],[-2.7,.66],[-3.5,.51],[-3.45,.48],[-3.2,.49],[-3.15,.465],[-3,.54],[-2.95,.53],[-2.1,.76],[-1.85,.765],
  [5.65,.31],[5.45,.17],[5.3,.21],[5.05,.21],[4.9,.62],[4.95,.58],[4.8,.64],[4.55,.74],[4.75,.72],[4,.75],[4.8,.35],[4.85,.33],[4.8,.16],[4.85,.13],[4.6,.05],[4.25,.03]
];
const starsC = [[1.52,.737],[1.4,.707],[2.66,.749],[2.68,.467]];
const starLabelsC = [["2",1.25,.775],["4",1.12,.742],["3",2.45,.78],["1",2.47,.5]];
const histTopC = [.4,0,0,.4,.4,0,0,.4,.6,.4,.3,.8,.6,1.2,1.8,4,6,8,13,11,16,18,17,16,19,23,32,33,29,35,32,29,34,35,36,33,38,36,43,39,38,43,39,46,35,28,26,23,17,11,9,7,4,3,2,1,.5];
const histRightC = [23,12,10,11,8,14,15,18,20,13,16,18,21,18,28,30,24,34,28,29,28,28,33,26,32,31,37,34,26,28,28,26,36,35,38,34,27,38,28,33,33,27,26,26,18,17,9,3.3];
const xTicksC = [-6, -4, -2, 0, 2, 4, 6];
const yTicksC = [0, .2, .4, .6, .8];

// ---------- drawing ----------
const width = 1000;
const height = 384;
const serif = "'DejaVu Serif', serif";

const svg = d3.select("#chart").append("svg")
    .attr("width", width)
    .attr("height", height)
    .style("font-family", serif);

const starSymbol = d3.symbol().type(d3.symbolStar).size(36);

function styleAxis(g) {
  g.attr("font-family", serif).attr("font-size", 10.5);
  g.selectAll("text").attr("fill", "#222");
  g.selectAll("line").attr("stroke", "#333");
  g.select(".domain").attr("stroke", "#333");
}

function drawPanel(p) {
  const x = d3.scaleLinear().domain(p.xDomain).range([p.left, p.right]);
  const y = d3.scaleLinear().domain(p.yDomain).range([p.bottom, p.top]);
  const g = svg.append("g");

  // top marginal histogram
  const hTop = d3.scaleLinear().domain([0, d3.max(p.histTop)]).range([0, p.topMax]);
  g.append("g").selectAll("rect")
    .data(p.histTop)
    .join("rect")
      .attr("x", (d, i) => x(p.topStart + i * p.topStep))
      .attr("width", (d, i) => x(p.topStart + (i + 1) * p.topStep) - x(p.topStart + i * p.topStep))
      .attr("y", d => p.topBase - hTop(d))
      .attr("height", d => hTop(d))
      .attr("fill", p.histFill)
      .attr("stroke", p.histStroke)
      .attr("stroke-width", 0.7)
      .attr("display", d => d > 0 ? null : "none");

  g.append("g")
    .attr("transform", `translate(0,${p.topBase})`)
    .call(d3.axisBottom(x).tickValues(p.xTicks).tickSize(3).tickSizeOuter(0).tickFormat(""))
    .call(styleAxis);

  // right marginal histogram
  const hRight = d3.scaleLinear().domain([0, d3.max(p.histRight)]).range([0, p.rightMax]);
  g.append("g").selectAll("rect")
    .data(p.histRight)
    .join("rect")
      .attr("x", p.rightBase)
      .attr("y", (d, i) => y(p.rightStart + (i + 1) * p.rightStep))
      .attr("height", (d, i) => y(p.rightStart + i * p.rightStep) - y(p.rightStart + (i + 1) * p.rightStep))
      .attr("width", d => hRight(d))
      .attr("fill", p.histFill)
      .attr("stroke", p.histStroke)
      .attr("stroke-width", 0.7)
      .attr("display", d => d > 0 ? null : "none");

  g.append("g")
    .attr("transform", `translate(${p.rightBase},0)`)
    .call(d3.axisLeft(y).tickValues(p.yTicks).tickSize(3).tickSizeOuter(0).tickFormat(""))
    .call(styleAxis);

  // main axes
  g.append("g")
    .attr("transform", `translate(0,${p.bottom})`)
    .call(d3.axisBottom(x).tickValues(p.xTicks).tickSize(3.5).tickPadding(2.5).tickSizeOuter(0).tickFormat(p.xFormat))
    .call(styleAxis);

  g.append("g")
    .attr("transform", `translate(${p.left},0)`)
    .call(d3.axisLeft(y).tickValues(p.yTicks).tickSize(3.5).tickPadding(2).tickSizeOuter(0).tickFormat(p.yFormat))
    .call(styleAxis);

  // reference compounds
  g.append("g").selectAll("circle")
    .data(p.points)
    .join("circle")
      .attr("cx", d => x(d[0]))
      .attr("cy", d => y(d[1]))
      .attr("r", p.dotR)
      .attr("fill", p.dotFill)
      .attr("stroke", p.dotStroke)
      .attr("stroke-width", 0.6);

  // input molecules
  g.append("g").selectAll("path")
    .data(p.stars)
    .join("path")
      .attr("d", starSymbol)
      .attr("transform", d => `translate(${x(d[0])},${y(d[1])})`)
      .attr("fill", "#ee3452")
      .attr("stroke", "#fff")
      .attr("stroke-width", 0.4);

  g.append("g").selectAll("text")
    .data(p.starLabels)
    .join("text")
      .attr("x", d => x(d[1]))
      .attr("y", d => y(d[2]))
      .attr("text-anchor", "middle")
      .attr("dy", "0.35em")
      .attr("font-family", "'DejaVu Sans', sans-serif")
      .attr("font-size", 8)
      .attr("fill", p.labelColor)
      .text(d => d[0]);

  // legend
  const lg = g.append("g").attr("transform", `translate(${p.legend[0]},${p.legend[1]})`);
  lg.append("rect")
    .attr("width", p.legend[2])
    .attr("height", p.legend[3])
    .attr("rx", 3)
    .attr("fill", "#fff")
    .attr("fill-opacity", 0.85)
    .attr("stroke", "#d4d4d4")
    .attr("stroke-width", 0.8);
  lg.append("circle")
    .attr("cx", 11).attr("cy", 8)
    .attr("r", 3)
    .attr("fill", p.dotFill)
    .attr("stroke", p.dotStroke)
    .attr("stroke-width", 0.6);
  lg.append("path")
    .attr("d", starSymbol)
    .attr("transform", "translate(11,21)")
    .attr("fill", "#ee3452");
  lg.append("text")
    .attr("x", 15).attr("y", 11.5)
    .attr("font-size", 9.5)
    .attr("textLength", p.legendText[0])
    .attr("lengthAdjust", "spacingAndGlyphs")
    .attr("fill", "#222")
    .text("Drugbank reference");
  lg.append("text")
    .attr("x", 15).attr("y", 24.5)
    .attr("font-size", 9.5)
    .attr("textLength", p.legendText[1])
    .attr("lengthAdjust", "spacingAndGlyphs")
    .attr("fill", "#222")
    .text("Input molecules");

  // axis titles
  g.append("text")
    .attr("x", p.xLabel[1])
    .attr("y", p.xLabel[2])
    .attr("text-anchor", "middle")
    .attr("font-size", 13)
    .attr("font-weight", "bold")
    .attr("textLength", p.xLabel[3])
    .attr("lengthAdjust", "spacingAndGlyphs")
    .attr("fill", "#222")
    .text(p.xLabel[0]);

  g.append("text")
    .attr("transform", `translate(${p.yLabel[1]},${p.yLabel[2]}) rotate(-90)`)
    .attr("text-anchor", "middle")
    .attr("dy", "0.35em")
    .attr("font-size", p.yLabel[4])
    .attr("font-weight", "bold")
    .attr("textLength", p.yLabel[3])
    .attr("lengthAdjust", "spacingAndGlyphs")
    .attr("fill", "#222")
    .text(p.yLabel[0]);

  // panel letter
  g.append("text")
    .attr("x", p.letter[1])
    .attr("y", p.letter[2])
    .attr("font-size", 24)
    .attr("font-weight", "bold")
    .attr("fill", "#111")
    .text(p.letter[0]);
}

drawPanel({
  points: pointsA, stars: starsA, starLabels: starLabelsA, dotR: 3,
  histTop: histTopA, topStart: 0, topStep: .02, topBase: 59, topMax: 45,
  histRight: histRightA, rightStart: 0, rightStep: .018, rightBase: 286, rightMax: 40,
  xTicks: xTicksA, yTicks: yTicksA, xFormat: d3.format(".1f"), yFormat: d3.format(".1f"),
  xDomain: [-.0553, 1.0553], yDomain: [-.0503, .9515],
  left: 37, right: 278, top: 68, bottom: 347,
  dotFill: "#1e55b5", dotStroke: "#d7e5fa", histFill: "#2d6bd0", histStroke: "#15305e", labelColor: "#b0283f",
  legend: [40, 73, 110, 30], legendText: [94, 77],
  xLabel: ["Human intestinal absorption (probability)", 148, 376, 264],
  yLabel: ["Clinical toxicity (probability)", 9, 200, 190, 13],
  letter: ["A", 7, 60]
});

drawPanel({
  points: pointsB, stars: starsB, starLabels: starLabelsB, dotR: 3.1,
  histTop: histTopB, topStart: 0, topStep: .02, topBase: 55, topMax: 46,
  histRight: histRightB, rightStart: .2, rightStep: .1, rightBase: 622, rightMax: 40,
  xTicks: xTicksB, yTicks: yTicksB, xFormat: d3.format(".1f"), yFormat: d3.format("d"),
  xDomain: [-.0447, 1.0336], yDomain: [.013, 5.227],
  left: 372, right: 613, top: 67, bottom: 347,
  dotFill: "#2f7bd8", dotStroke: "#c3dbf6", histFill: "#4a8fdc", histStroke: "#22446e", labelColor: "#e0405c",
  legend: [438, 314, 109, 29], legendText: [94, 77],
  xLabel: ["Carcinogenicity (probability)", 486, 375, 181],
  yLabel: ["Acute toxicity LD 50 (log (1/ (mol / kg )))", 343, 208, 239, 13],
  letter: ["B", 346, 59]
});

drawPanel({
  points: pointsC, stars: starsC, starLabels: starLabelsC, dotR: 3.25,
  histTop: histTopC, topStart: -6.4, topStep: .212, topBase: 59, topMax: 46,
  histRight: histRightC, rightStart: .008, rightStep: .0193, rightBase: 955, rightMax: 38,
  xTicks: xTicksC, yTicks: yTicksC, xFormat: d => String(d), yFormat: d3.format(".1f"),
  xDomain: [-6.99, 6.3], yDomain: [-.0367, .98],
  left: 717, right: 947, top: 68, bottom: 345,
  dotFill: "#1d5fca", dotStroke: "#d3e3fa", histFill: "#2563c9", histStroke: "#172f5e", labelColor: "#b0283f",
  legend: [718, 73, 106, 28], legendText: [92, 78],
  xLabel: ["Lipophilicity (log-ratio)", 850, 377, 145],
  yLabel: ["Quantitative estimate of druglikeness (QED) (probability)", 690, 204, 344, 11.5],
  letter: ["C", 661, 60]
});
</script>
</body>
</html>
